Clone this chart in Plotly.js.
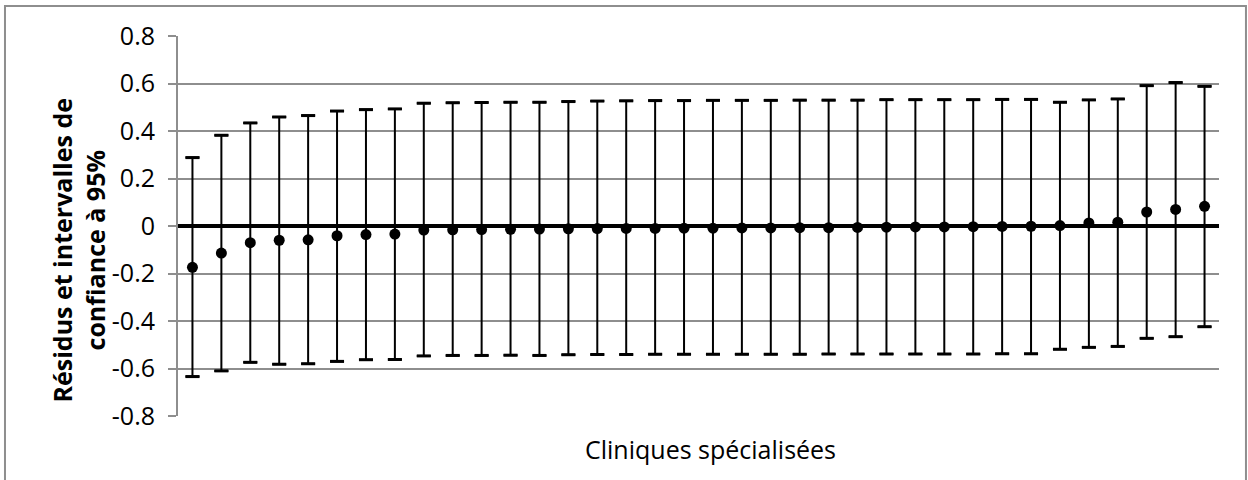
<!DOCTYPE html>
<html>
<head>
<meta charset="utf-8">
<script src="https://cdn.plot.ly/plotly-3.0.1.min.js"></script>
<style>html,body{margin:0;padding:0;background:#fff;}#chart{width:1248px;height:480px;}</style>
</head>
<body>
<div id="chart"></div>
<script>
// Clinic index (categories, no labels shown)
const categories = Array.from({length: 36}, (_, i) => String(i + 1));

// Residuals
const residuals = [-0.174,-0.114,-0.070,-0.060,-0.058,-0.041,-0.036,-0.034,-0.017,-0.016,
  -0.015,-0.014,-0.013,-0.012,-0.011,-0.010,-0.010,-0.009,-0.009,-0.008,
  -0.008,-0.007,-0.007,-0.006,-0.005,-0.004,-0.004,-0.003,-0.002,-0.001,
  0.002,0.013,0.016,0.059,0.070,0.083];

// Upper bounds of 95% CI
const upper = [0.288,0.382,0.434,0.459,0.465,0.484,0.490,0.493,0.517,0.519,
  0.520,0.521,0.521,0.524,0.526,0.527,0.528,0.528,0.529,0.529,
  0.529,0.530,0.530,0.530,0.532,0.532,0.532,0.532,0.533,0.533,
  0.521,0.531,0.535,0.591,0.604,0.588];

// Lower bounds of 95% CI
const lower = [-0.634,-0.610,-0.574,-0.582,-0.580,-0.570,-0.563,-0.562,-0.547,-0.545,
  -0.545,-0.544,-0.545,-0.542,-0.541,-0.541,-0.540,-0.540,-0.540,-0.540,
  -0.540,-0.540,-0.539,-0.539,-0.539,-0.539,-0.539,-0.539,-0.538,-0.538,
  -0.519,-0.511,-0.507,-0.473,-0.466,-0.424];

// Y tick labels
const yTickVals = [-0.8,-0.6,-0.4,-0.2,0,0.2,0.4,0.6,0.8];
const yTickText = ["-0.8","-0.6","-0.4","-0.2","0","0.2","0.4","0.6","0.8"];

const FONT = "'Open Sans', 'Noto Sans', sans-serif";

const errPlus = upper.map((u, i) => u - residuals[i]);
const errMinus = lower.map((l, i) => residuals[i] - l);

const traces = [
  {
    type: 'scatter', mode: 'markers', x: categories, y: residuals,
    marker: {color: '#000', size: 11},
    error_y: {type: 'data', symmetric: false, array: errPlus, arrayminus: errMinus,
      color: '#000', thickness: 2, width: 7},
    hoverinfo: 'x+y', showlegend: false
  },
  {
    type: 'scatter', mode: 'markers', x: categories, y: upper,
    marker: {symbol: 'line-ew', size: 10, line: {color: '#000', width: 3}},
    hoverinfo: 'skip', showlegend: false
  },
  {
    type: 'scatter', mode: 'markers', x: categories, y: lower,
    marker: {symbol: 'line-ew', size: 10, line: {color: '#000', width: 3}},
    hoverinfo: 'skip', showlegend: false
  }
];

const GRID = '#8e8e8e';

const layout = {
  width: 1248, height: 480,
  margin: {l: 178, r: 29, t: 36, b: 64, pad: 0},
  paper_bgcolor: '#fff', plot_bgcolor: '#fff',
  font: {family: FONT, color: '#000'},
  showlegend: false,
  xaxis: {
    type: 'category', range: [-0.5, 35.5],
    showticklabels: false, ticks: '', showgrid: false, zeroline: false, showline: false,
    fixedrange: true
  },
  yaxis: {
    range: [-0.8, 0.8], tickvals: yTickVals, ticktext: yTickText,
    tickfont: {family: FONT, size: 25, color: '#000'},
    ticklabelstandoff: 8,
    showgrid: true, gridcolor: GRID, gridwidth: 2,
    zeroline: true, zerolinecolor: '#000', zerolinewidth: 4,
    showline: true, linecolor: GRID, linewidth: 2,
    ticks: 'outside', ticklen: 8, tickcolor: GRID, tickwidth: 2,
    fixedrange: true
  },
  annotations: [
    {
      text: 'Résidus et intervalles de<br>confiance à 95%',
      xref: 'paper', yref: 'paper', x: -0.0951, y: 0.4355,
      xanchor: 'center', yanchor: 'middle', textangle: -90, showarrow: false,
      align: 'center',
      font: {family: FONT, size: 25, color: '#000', weight: 'bold'}
    },
    {
      text: 'Cliniques spécialisées',
      xref: 'paper', yref: 'paper', x: 0.512, y: -0.087,
      xanchor: 'center', yanchor: 'middle', showarrow: false,
      font: {family: FONT, size: 25, color: '#000'}
    }
  ],
  shapes: [
    {type: 'rect', xref: 'paper', yref: 'paper',
     x0: -0.1662, x1: 1.0259, y0: -0.171, y1: 1.0789,
     line: {color: GRID, width: 2}, fillcolor: 'rgba(0,0,0,0)', layer: 'below'}
  ]
};

Plotly.newPlot('chart', traces, layout, {displayModeBar: false, staticPlot: true});
</script>
</body>
</html>
